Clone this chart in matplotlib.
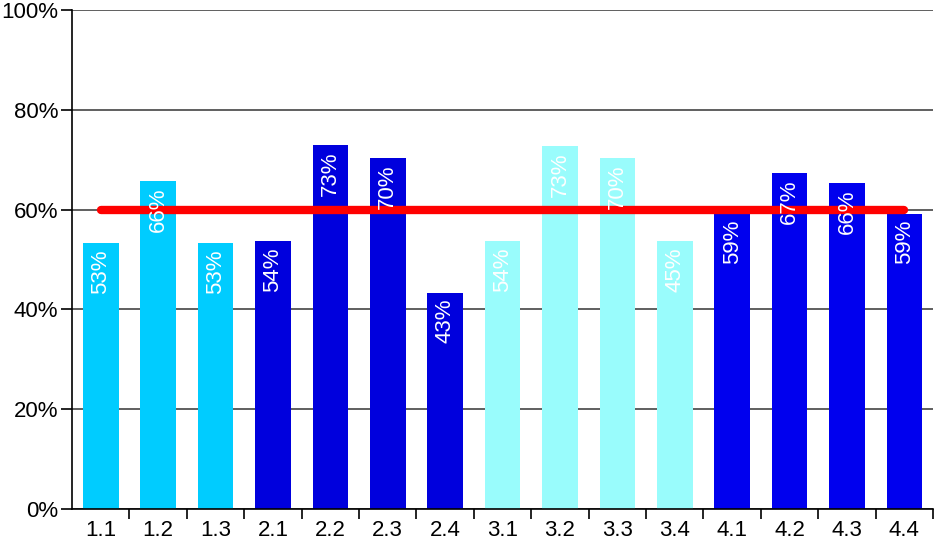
import numpy as np
import matplotlib
matplotlib.use('Agg')
import matplotlib.pyplot as plt
from matplotlib import font_manager
from matplotlib.ticker import FixedLocator

# Daten
categories = ['1.1', '1.2', '1.3', '2.1', '2.2', '2.3', '2.4',
              '3.1', '3.2', '3.3', '3.4', '4.1', '4.2', '4.3', '4.4']
values = [53.3, 65.7, 53.3, 53.7, 72.9, 70.3, 43.3,
          53.7, 72.7, 70.3, 53.7, 59.1, 67.3, 65.3, 59.1]
labels = ['53%', '66%', '53%', '54%', '73%', '70%', '43%',
          '54%', '73%', '70%', '45%', '59%', '67%', '66%', '59%']
groups = [1, 1, 1, 2, 2, 2, 2, 3, 3, 3, 3, 4, 4, 4, 4]
target = 60

group_colors = {1: '#00ccff', 2: '#0000dd', 3: '#99fcfc', 4: '#0000ee'}

# Schrift: schmale Variante, falls vorhanden
names = {f.name for f in font_manager.fontManager.ttflist}
font = 'Liberation Sans Narrow' if 'Liberation Sans Narrow' in names else 'Liberation Sans'
plt.rcParams['font.family'] = [font, 'DejaVu Sans']
fs = 19 if font == 'Liberation Sans Narrow' else 16

fig = plt.figure(figsize=(9.38, 5.49), dpi=100)
ax = fig.add_axes([0.0768, 0.0729, 0.9179, 0.9089])

x = np.arange(len(categories))
colors = [group_colors[g] for g in groups]
ax.bar(x, values, width=0.62, color=colors, zorder=2)

# Beschriftung in den Balken
for xi, v, lab in zip(x, values, labels):
    ax.text(xi, v - 1.2, lab, rotation=90, ha='center', va='top',
            color='white', fontsize=fs, zorder=4)

# Zielwert-Linie
ax.plot([x[0], x[-1]], [target, target], color='#ff0000', linewidth=6,
        solid_capstyle='round', zorder=3)

ax.set_xlim(-0.5, len(categories) - 0.5)
ax.set_ylim(0, 100)
ax.set_yticks(np.arange(0, 101, 20))
ax.set_yticklabels([f'{t}%' for t in range(0, 101, 20)], fontsize=fs)
ax.yaxis.grid(True, color='#444444', linewidth=1.2, zorder=0)
ax.tick_params(axis='y', length=8, width=1.2, pad=2)

ax.set_xticks(x)
ax.set_xticklabels(categories, fontsize=fs)
ax.tick_params(axis='x', which='major', length=0, pad=8)
ax.xaxis.set_minor_locator(FixedLocator(np.arange(0.5, len(categories), 1.0)))
ax.tick_params(axis='x', which='minor', length=7, width=1.2, direction='out')

for side in ['top', 'right']:
    ax.spines[side].set_visible(False)
ax.spines['left'].set_linewidth(1.2)
ax.spines['bottom'].set_linewidth(1.2)

fig.savefig('out.png', dpi=100)
